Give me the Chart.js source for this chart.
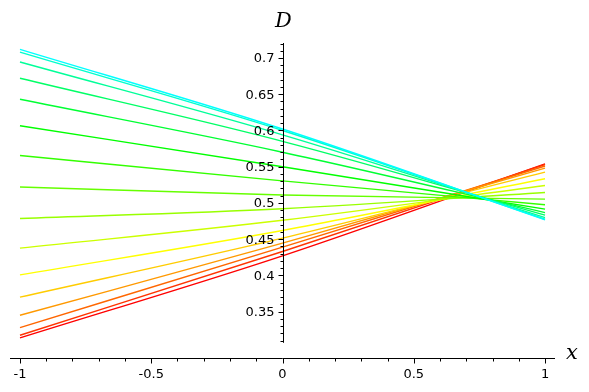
<!DOCTYPE html>
<html>
<head>
<meta charset="utf-8">
<script src="https://cdn.jsdelivr.net/npm/chart.js@4"></script>
<style>
  html, body { margin: 0; padding: 0; background: #fff; }
</style>
</head>
<body>
<canvas id="DPlot" width="589" height="392"></canvas>
<script>
// sample points along x, one value per curve at each of them
const xValues = [-1, 0, 1];
const dAtMinusOne = [0.712, 0.708, 0.6945, 0.672, 0.643, 0.6065, 0.5655, 0.522, 0.4785, 0.4376, 0.4007, 0.370, 0.345, 0.328, 0.3174, 0.3137];
const dAtZero     = [0.602, 0.600, 0.594, 0.585, 0.570, 0.550, 0.5305, 0.511, 0.492, 0.476, 0.462, 0.4515, 0.4445, 0.439, 0.433, 0.427];
const dAtOne      = [0.4767, 0.4775, 0.4798, 0.4831, 0.4867, 0.4914, 0.4974, 0.5053, 0.5144, 0.524, 0.5333, 0.5425, 0.548, 0.551, 0.553, 0.554];

const xTicks = [-1, -0.5, 0, 0.5, 1];
const xTickLabels = ['-1', '-0.5', '0', '0.5', '1'];
const yTicks = [0.35, 0.4, 0.45, 0.5, 0.55, 0.6, 0.65, 0.7];
const yTickLabels = ['0.35', '0.4', '0.45', '0.5', '0.55', '0.6', '0.65', '0.7'];

const datasets = dAtMinusOne.map((v, i) => {
  const cols = [dAtMinusOne[i], dAtZero[i], dAtOne[i]];
  const hue = 180 - 12 * i;
  return {
    data: xValues.map((x, k) => ({x: x, y: cols[k]})),
    borderColor: 'hsl(' + hue + ', 100%, 50%)',
    borderWidth: 1.4,
    pointRadius: 0,
    showLine: true,
    cubicInterpolationMode: 'monotone'
  };
});

// draw the axes the way sage does it: y axis through x=0, x axis under the plot
const sageAxes = {
  id: 'sageAxes',
  afterDatasetsDraw(chart) {
    const ctx = chart.ctx;
    const xs = chart.scales.x, ys = chart.scales.y;
    const area = chart.chartArea;
    const ax = Math.round(xs.getPixelForValue(0)) + 0.5;
    const ay = Math.round(area.bottom) + 0.5;

    ctx.save();
    ctx.strokeStyle = '#000';
    ctx.lineWidth = 1;

    // horizontal axis
    ctx.beginPath();
    ctx.moveTo(area.left, ay);
    ctx.lineTo(area.right, ay);
    for (let k = -10; k <= 10; k++) {
      const px = Math.round(xs.getPixelForValue(k / 10)) + 0.5;
      const len = (k % 5 === 0) ? 5 : 3;
      ctx.moveTo(px, ay);
      ctx.lineTo(px, ay + len);
    }
    ctx.stroke();

    // vertical axis
    ctx.beginPath();
    ctx.moveTo(ax, ys.getPixelForValue(0.307));
    ctx.lineTo(ax, area.top);
    for (let k = 31; k <= 72; k++) {
      const py = Math.round(ys.getPixelForValue(k / 100)) + 0.5;
      const len = (k % 5 === 0) ? 5 : 3;
      ctx.moveTo(ax, py);
      ctx.lineTo(ax - len, py);
    }
    ctx.stroke();

    ctx.fillStyle = '#000';
    ctx.font = '13px "DejaVu Sans"';
    ctx.textAlign = 'center';
    ctx.textBaseline = 'middle';
    xTicks.forEach((t, i) => {
      ctx.fillText(xTickLabels[i], xs.getPixelForValue(t), ay + 16);
    });
    ctx.textAlign = 'right';
    yTicks.forEach((t, i) => {
      ctx.fillText(yTickLabels[i], ax - 9, ys.getPixelForValue(t) + 1);
    });

    ctx.font = 'italic 21px "DejaVu Serif"';
    ctx.textAlign = 'center';
    ctx.fillText('D', ax, 22);
    ctx.textAlign = 'left';
    ctx.fillText('x', area.right + 11, ay - 5);
    ctx.restore();
  }
};

const DPlot = new Chart(document.getElementById('DPlot'), {
  type: 'scatter',
  data: {datasets: datasets},
  options: {
    responsive: false,
    animation: false,
    layout: {padding: {left: 10, right: 34, top: 43, bottom: 34}},
    plugins: {legend: {display: false}, tooltip: {enabled: false}},
    scales: {
      x: {type: 'linear', min: -1.038, max: 1.038, display: false},
      y: {type: 'linear', min: 0.286, max: 0.7207, display: false}
    }
  },
  plugins: [sageAxes]
});
</script>
</body>
</html>
